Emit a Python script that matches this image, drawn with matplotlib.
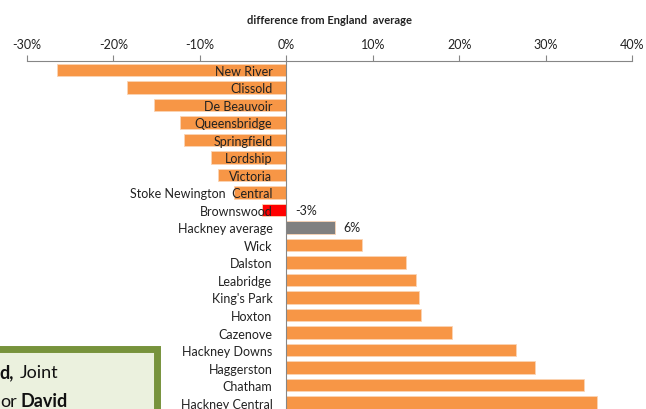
import matplotlib.pyplot as plt
from matplotlib.patches import Rectangle
from matplotlib.ticker import FuncFormatter

wards = ['New River', 'Clissold', 'De Beauvoir', 'Queensbridge', 'Springfield',
         'Lordship', 'Victoria', 'Stoke Newington  Central', 'Brownswood',
         'Hackney average', 'Wick', 'Dalston', 'Leabridge', "King's Park",
         'Hoxton', 'Cazenove', 'Hackney Downs', 'Haggerston', 'Chatham',
         'Hackney Central']
diff = [-26.5, -18.4, -15.3, -12.3, -11.8, -8.7, -7.9, -6.0, -2.8,
        5.6, 8.8, 13.8, 15.0, 15.4, 15.6, 19.2, 26.6, 28.8, 34.5, 35.9]
labelled = {'Brownswood': '-3%', 'Hackney average': '6%'}
xticks = [-30, -20, -10, 0, 10, 20, 30, 40]

plt.rcParams['font.family'] = ['Lato', 'DejaVu Sans']

fig = plt.figure(figsize=(6.46, 4.10), dpi=100)
ax = fig.add_axes([27 / 646, 0, 605 / 646, 1 - 62 / 410])

colors = []
for w in wards:
    if w == 'Brownswood':
        colors.append('#FF0000')
    elif w == 'Hackney average':
        colors.append('#808080')
    else:
        colors.append('#F79646')

ypos = list(range(len(wards)))
ax.barh(ypos, diff, height=0.7, color=colors, edgecolor='#FBD4B4', linewidth=0.6)

for i, w in enumerate(wards):
    if w in labelled:
        x = max(diff[i], 0) + 1.0
        ax.text(x, i, labelled[w], va='center', ha='left', fontsize=9, color='#222222')

ax.set_xlim(-30, 40)
ax.set_ylim(19.37, -0.51)

# x axis sits on top, Excel style
ax.xaxis.tick_top()
ax.set_xticks(xticks)
ax.xaxis.set_major_formatter(FuncFormatter(lambda v, p: f'{v:.0f}%'))
ax.tick_params(axis='x', direction='out', length=4, color='#868686',
               labelsize=9, pad=4, labelcolor='#222222')
ax.set_xlabel('difference from England  average', fontsize=8, fontweight='bold',
              labelpad=11, color='#222222')
ax.xaxis.set_label_position('top')

ax.spines['left'].set_position(('data', 0))
ax.spines['left'].set_color('#868686')
ax.spines['top'].set_color('#868686')
ax.spines['right'].set_visible(False)
ax.spines['bottom'].set_visible(False)
ax.set_yticks(ypos)
ax.set_yticklabels(wards)
ax.tick_params(axis='y', length=0, pad=10, labelsize=9, labelcolor='#222222')

# partially visible text box in the bottom-left corner
box = Rectangle((-10 / 646, -20 / 410), 167 / 646, (410 - 350 + 20) / 410,
                transform=fig.transFigure, facecolor='#EBF1DE', edgecolor='#77933C',
                linewidth=5, zorder=5, clip_on=False)
fig.patches.append(box)
fig.text(-1 / 646, 1 - 373 / 410, 'd,', fontsize=13, fontweight='bold',
         va='center', ha='left', zorder=6, color='#111111')
fig.text(20 / 646, 1 - 373 / 410, 'Joint', fontsize=13, va='center', ha='left',
         zorder=6, color='#111111')
fig.text(0.5 / 646, 1 - 402 / 410, 'or', fontsize=13, va='center', ha='left',
         zorder=6, color='#111111')
fig.text(20 / 646, 1 - 402 / 410, 'David', fontsize=13, fontweight='bold',
         va='center', ha='left', zorder=6, color='#111111')

fig.savefig('out.png', dpi=100)
